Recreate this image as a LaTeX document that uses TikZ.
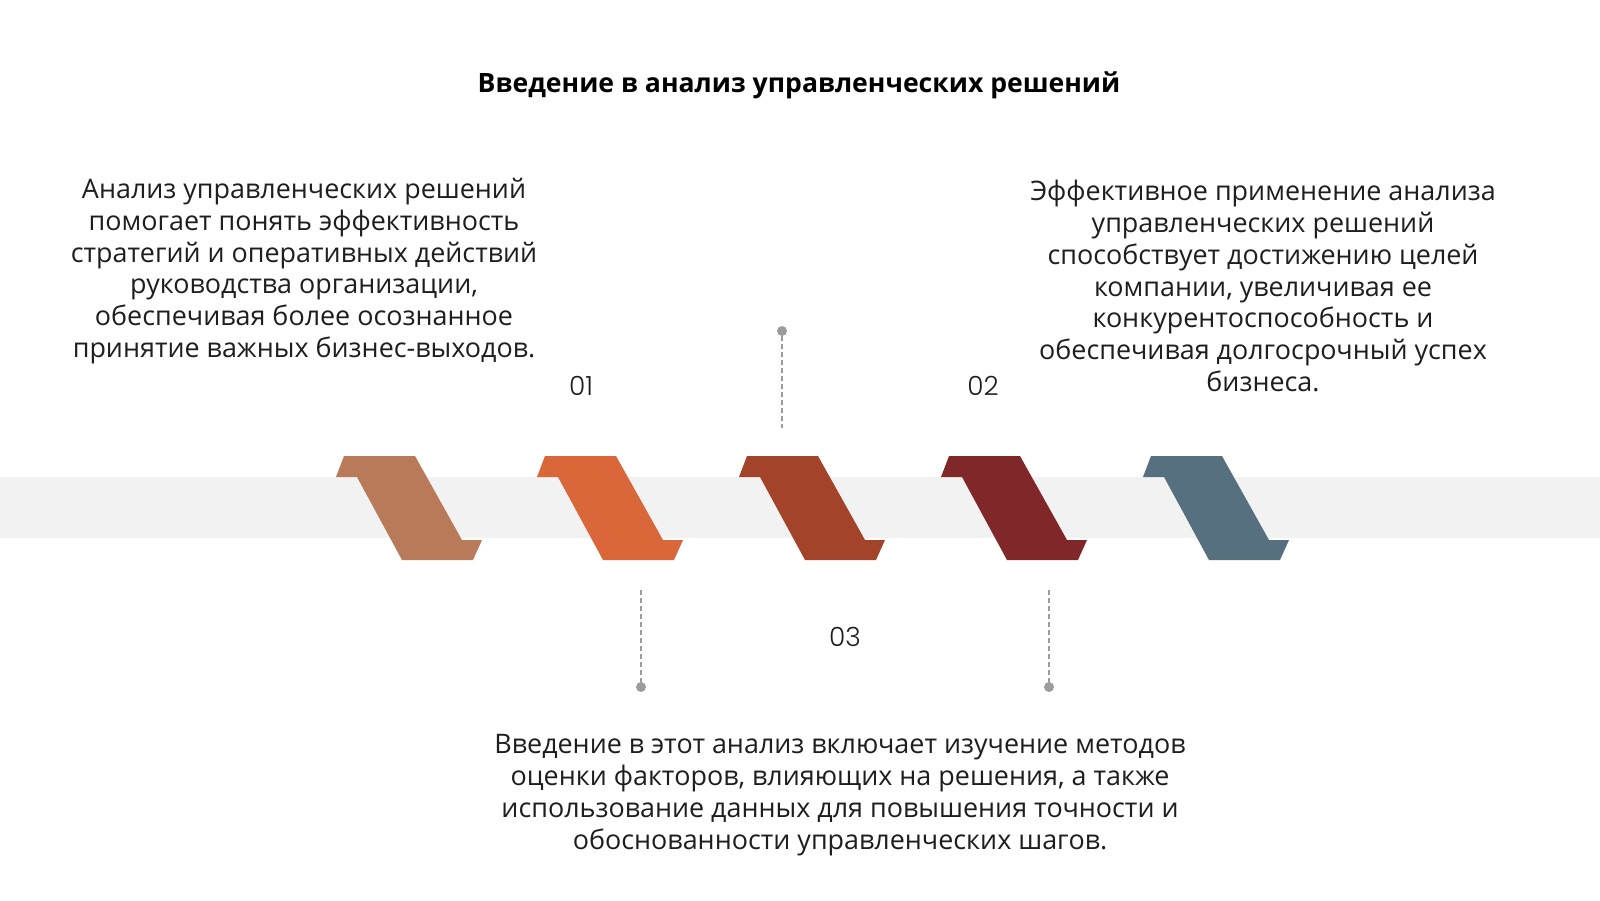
\documentclass[tikz,border=0pt]{standalone}
\usepackage{fontspec}
\setmainfont{Open Sans}
\newfontfamily\numfont{Poppins Light}
\definecolor{cA}{HTML}{B97A5A}
\definecolor{cB}{HTML}{D9673A}
\definecolor{cC}{HTML}{A2432A}
\definecolor{cD}{HTML}{80272A}
\definecolor{cE}{HTML}{56707F}
\definecolor{band}{HTML}{F2F2F2}
\definecolor{dotgray}{HTML}{9C9C9C}
\definecolor{txt}{HTML}{1E1E1E}
\begin{document}
\begin{tikzpicture}[x=0.5pt,y=-0.5pt,
  body/.style={align=center, font=\fontsize{13.45}{15.9}\selectfont, text=txt, inner sep=0pt},
  title/.style={font=\bfseries\fontsize{13.3}{15}\selectfont, text=black, inner sep=0pt},
  num/.style={font=\numfont\fontsize{13.2}{15}\selectfont, text=txt, inner sep=0pt},
  dot/.style={circle, fill=dotgray, minimum size=5pt, inner sep=0pt},
  leader/.style={dotgray, line width=0.6pt, dash pattern=on 2.5pt off 1.5pt}]
\useasboundingbox (0,0) rectangle (1600,900);
\fill[white] (0,0) rectangle (1600,900);
\fill[band] (0,477) rectangle (1600,538);
\foreach \x/\c in {336/cA,537/cB,739/cC,941/cD,1143/cE} {
  \fill[\c] (\x,477) -- ({\x+8},456) -- ({\x+79},456) -- ({\x+126},540) -- ({\x+146},540) -- ({\x+137},560) -- ({\x+66},560) -- ({\x+21},477) -- cycle;
}
\node[title] (title) at (799,85) {Введение в анализ управленческих решений};
\node[body] (left) at (304,271) {Анализ управленческих решений\\помогает понять эффективность\\стратегий и оперативных действий\\руководства организации,\\обеспечивая более осознанное\\принятие важных бизнес-выходов.};
\node[body] (right) at (1263,286) {Эффективное применение анализа\\управленческих решений\\способствует достижению целей\\компании, увеличивая ее\\конкурентоспособность и\\обеспечивая долгосрочный успех\\бизнеса.};
\node[body] (bottom) at (840,795) {Введение в этот анализ включает изучение методов\\оценки факторов, влияющих на решения, а также\\использование данных для повышения точности и\\обоснованности управленческих шагов.};
\node[num] (n1) at (581,386) {01};
\node[num] (n2) at (983,386) {02};
\node[num] (n3) at (845,637) {03};
\node[dot] (d1) at (782,331) {};
\coordinate (e1) at (782,428);
\node[dot] (d2) at (641,687) {};
\coordinate (e2) at (641,590);
\node[dot] (d3) at (1049,687) {};
\coordinate (e3) at (1049,590);
\draw[leader] (d1) -- (e1);
\draw[leader] (e2) -- (d2);
\draw[leader] (e3) -- (d3);
\end{tikzpicture}
\end{document}
